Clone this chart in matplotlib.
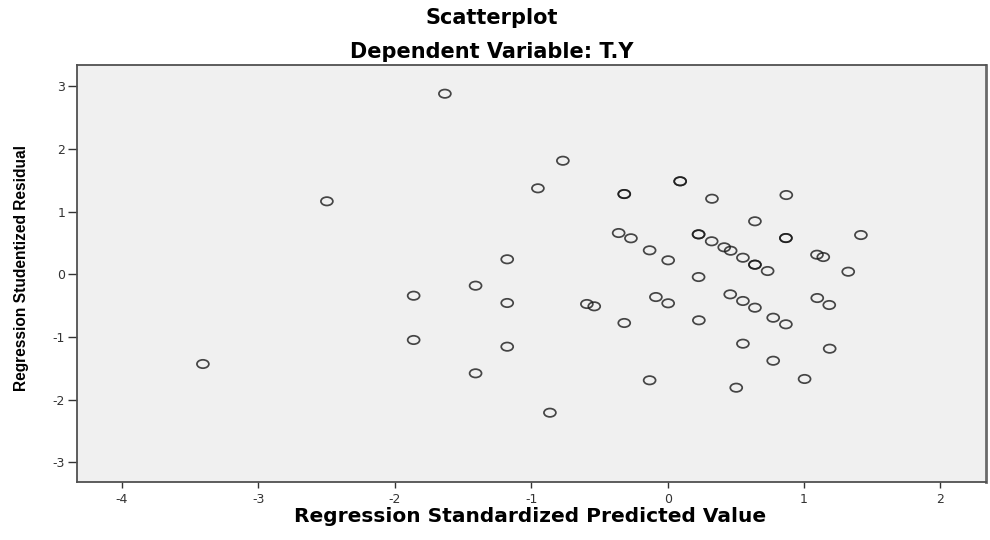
import numpy as np
import matplotlib
matplotlib.use("Agg")
import matplotlib.pyplot as plt
from matplotlib.path import Path
from matplotlib.transforms import Affine2D
from matplotlib import font_manager as fm

# Data (predicted value, studentized residual)
pred = [-0.768, -0.951, -0.318, -0.318, 0.092, 0.092, 0.325, 0.870, 0.640,
        -0.359, -0.269, 0.227, 0.227, 0.323, 0.415, 0.462, 0.867, 0.867,
        1.417, -0.132, 0.004, 0.552, 0.640, 0.640, 0.733, 1.095, 1.141,
        1.324, -1.176, 0.227, -1.408, -1.176, -0.592, -0.538, -0.086, 0.004,
        0.459, 0.552, 0.640, 1.097, 1.185, -0.318, 0.229, 0.774, 0.867,
        -1.176, 0.552, 1.188, 0.774, -1.408, -0.132, 0.503, 1.004, -0.863,
        -1.633, -2.498, -3.407, -1.862, -1.862]
resid = [1.810, 1.370, 1.279, 1.279, 1.482, 1.482, 1.204, 1.263, 0.844,
         0.657, 0.573, 0.636, 0.636, 0.525, 0.429, 0.375, 0.577, 0.577,
         0.625, 0.381, 0.222, 0.263, 0.152, 0.152, 0.051, 0.311, 0.274,
         0.040, 0.238, -0.045, -0.183, -0.459, -0.475, -0.512, -0.364, -0.464,
         -0.321, -0.427, -0.534, -0.380, -0.491, -0.778, -0.735, -0.694, -0.799,
         -1.156, -1.108, -1.188, -1.380, -1.581, -1.692, -1.810, -1.671, -2.209,
         2.879, 1.163, -1.432, -0.343, -1.049]

x_ticks = [-4, -3, -2, -1, 0, 1, 2]
y_ticks = [-3, -2, -1, 0, 1, 2, 3]

title1 = "Scatterplot"
title2 = "Dependent Variable: T.Y"
xlabel = "Regression Standardized Predicted Value"
ylabel = "Regression Studentized Residual"


def has_font(name):
    try:
        fm.findfont(fm.FontProperties(family=name), fallback_to_default=False)
        return True
    except Exception:
        return False


fig = plt.figure(figsize=(9.9, 5.4), dpi=100)
fig.patch.set_facecolor("white")
ax = fig.add_axes([77 / 990, (540 - 482.3) / 540, (986 - 77) / 990, (482.3 - 65) / 540])
ax.set_facecolor("#f0f0f0")

marker = Path.unit_circle().transformed(Affine2D().scale(1.0, 0.7))
ax.scatter(pred, resid, marker=marker, s=8.6 ** 2, facecolors="none",
           edgecolors="#1a1a1a", linewidths=1.25, alpha=0.8, zorder=3)

ax.set_xlim(-4.33, 2.334)
ax.set_ylim(-3.319, 3.337)
ax.set_xticks(x_ticks)
ax.set_yticks(y_ticks)
ax.set_xticklabels([str(v) for v in x_ticks])
ax.set_yticklabels([str(v) for v in y_ticks])
ax.tick_params(axis="x", direction="out", length=4.5, width=1.0, pad=3,
               labelsize=9, colors="#333333")
ax.tick_params(axis="y", direction="out", length=6.5, width=1.0, pad=2,
               labelsize=9, colors="#333333")
for side in ["left", "bottom", "top", "right"]:
    ax.spines[side].set_color("#505050")
    ax.spines[side].set_linewidth(1.3)
ax.spines["right"].set_linewidth(2.0)
ax.spines["right"].set_color("#6a6a6a")

fig.text(0.4965, 1 - 18 / 540, title1, ha="center", va="center",
         fontsize=15, fontweight="bold", family="DejaVu Sans", color="black")
fig.text(0.4965, 1 - 52 / 540, title2, ha="center", va="center",
         fontsize=15, fontweight="bold", family="DejaVu Sans", color="black")

fig.text(530.5 / 990, 1 - 516 / 540, xlabel, ha="center", va="center",
         fontsize=14.5, fontweight="bold", family="DejaVu Sans", color="black")

if has_font("Liberation Sans Narrow"):
    yfam, ysize = "Liberation Sans Narrow", 13
else:
    yfam, ysize = "Liberation Sans", 11.2
fig.text(22 / 990, 1 - 268 / 540, ylabel, ha="center", va="center",
         rotation=90, fontsize=ysize, fontweight="bold", family=yfam, color="black")

fig.savefig("out.png", dpi=100)
